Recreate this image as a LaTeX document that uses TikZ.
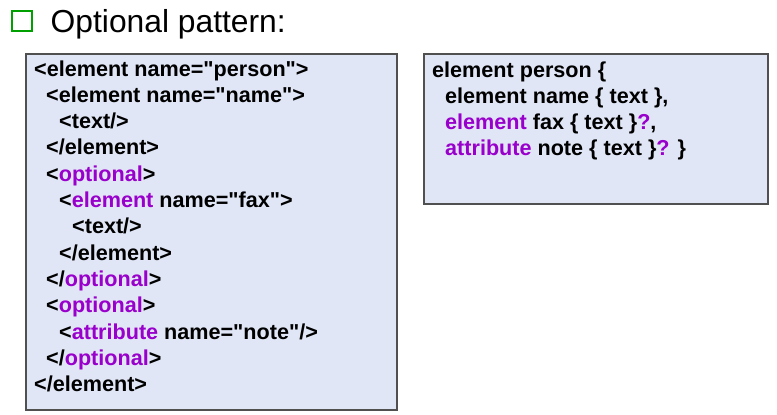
\documentclass[tikz,border=0pt]{standalone}
\usepackage{fontspec}
\setmainfont{Liberation Sans}[Ligatures=TeXOff]
\definecolor{boxfill}{RGB}{224,230,246}
\definecolor{boxline}{RGB}{80,80,80}
\definecolor{pur}{RGB}{153,0,204}
\definecolor{bullet}{RGB}{0,160,0}
\newcommand{\pu}[1]{\textcolor{pur}{#1}}
\tikzset{
  codebox/.style={draw=boxline, line width=1.2pt, fill=boxfill},
  code/.style={anchor=base west, inner sep=0pt, font=\fontsize{21.6}{26}\selectfont\bfseries},
}
\begin{document}
\begin{tikzpicture}[x=1pt,y=-1pt]
\useasboundingbox (0,0) rectangle (777,415);
% bullet and title
\draw[bullet, line width=2.5pt] (12,11) rectangle (32,31);
\node[anchor=base west, inner sep=0pt, font=\fontsize{31.8}{36}\selectfont] (title) at (50.5,32) {Optional pattern:};
% boxes
\draw[codebox] (26,54) rectangle (397,410);
\draw[codebox] (424,54) rectangle (768,204);
% left box text
\node[code] (a1)  at (34,76)    {<element name="person">};
\node[code] (a2)  at (46,102.3) {<element name="name">};
\node[code] (a3)  at (59,128.6) {<text/>};
\node[code] (a4)  at (46,154.9) {</element>};
\node[code] (a5)  at (46,181.2) {<\pu{optional}>};
\node[code] (a6)  at (59,207.5) {<\pu{element} name="fax">};
\node[code] (a7)  at (72,233.8) {<text/>};
\node[code] (a8)  at (59,260.1) {</element>};
\node[code] (a9)  at (46,286.4) {</\pu{optional}>};
\node[code] (a10) at (46,312.7) {<\pu{optional}>};
\node[code] (a11) at (59,339)   {<\pu{attribute} name="note"/>};
\node[code] (a12) at (46,365.3) {</\pu{optional}>};
\node[code] (a13) at (34,391.6) {</element>};
% right box text
\node[code] (b1) at (432,77)    {element person \{};
\node[code] (b2) at (445,103.3) {element name \{ text \},};
\node[code] (b3) at (445,129.6) {\pu{element} fax \{ text \}\pu{?},};
\node[code] (b4) at (445,155.9) {\pu{attribute} note \{ text \}\pu{?} \}};
\end{tikzpicture}
\end{document}
